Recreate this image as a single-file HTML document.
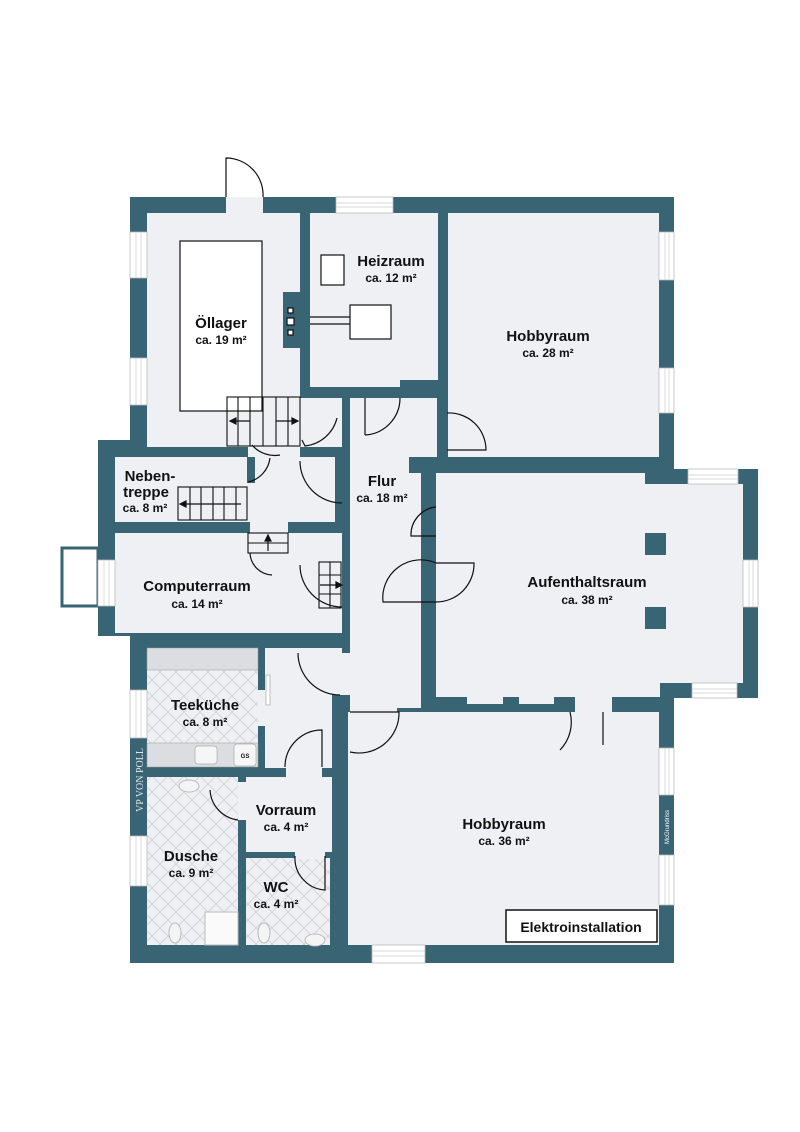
<!DOCTYPE html>
<html><head><meta charset="utf-8"><style>
html,body{margin:0;padding:0;background:#fff}
svg{display:block}
text{font-family:"Liberation Sans",sans-serif;font-weight:bold;fill:#111;text-anchor:middle}
</style></head><body>
<svg width="800" height="1132" viewBox="0 0 800 1132" xmlns="http://www.w3.org/2000/svg">
<defs>
<pattern id="tile" width="16" height="16" patternUnits="userSpaceOnUse">
<rect width="16" height="16" fill="#eef0f4"/>
<path d="M0 0L16 16M16 0L0 16" stroke="#cfd2d8" stroke-width="0.8"/>
</pattern>
</defs>
<g fill="#386474">
<rect x="130" y="197" width="544" height="766"/>
<rect x="98" y="440" width="40" height="196"/>
<rect x="660" y="469" width="98" height="229"/>
</g>
<rect x="62" y="548" width="36" height="58" fill="#fff" stroke="#386474" stroke-width="3"/>
<g fill="#eef0f4">
<rect x="147" y="213" width="153" height="234"/>
<rect x="226" y="197" width="37" height="16"/>
<rect x="310" y="213" width="128" height="174"/>
<rect x="448" y="213" width="211" height="244"/>
<rect x="300" y="398" width="42" height="49"/>
<rect x="342" y="398" width="95" height="50"/>
<rect x="350" y="398" width="71" height="310"/>
<rect x="421" y="398" width="16" height="60"/>
<rect x="115" y="457" width="220" height="65"/>
<rect x="248" y="447" width="52" height="12"/>
<rect x="115" y="533" width="227" height="100"/>
<rect x="250" y="521" width="38" height="14"/>
<rect x="436" y="473" width="224" height="224"/>
<rect x="660" y="484" width="83" height="199"/>
<rect x="265" y="648" width="85" height="47"/>
<rect x="265" y="648" width="67" height="120"/>
<rect x="246" y="777" width="86" height="75"/>
<rect x="286" y="765" width="36" height="14"/>
<rect x="348" y="712" width="311" height="233"/>
<rect x="350" y="698" width="47" height="16"/>
</g>
<rect x="147" y="648" width="111" height="119" fill="url(#tile)"/>
<rect x="147" y="777" width="91" height="168" fill="url(#tile)"/>
<rect x="246" y="858" width="84" height="87" fill="url(#tile)"/>
<rect x="238" y="782" width="8" height="38" fill="#eef0f4"/>
<rect x="295" y="851" width="30" height="8" fill="#eef0f4"/>
<rect x="258" y="690" width="7" height="36" fill="#eef0f4"/>
<g fill="#386474">
<rect x="283" y="292" width="26" height="56"/>
<rect x="400" y="380" width="38" height="8"/>
<rect x="247" y="457" width="8" height="26"/>
<rect x="342" y="398" width="8" height="67"/>
<rect x="335" y="447" width="15" height="18"/>
<rect x="342" y="503" width="8" height="60"/>
<rect x="342" y="605" width="8" height="48"/>
<rect x="421" y="458" width="15" height="49"/>
<rect x="421" y="537" width="15" height="26"/>
<rect x="421" y="602" width="15" height="100"/>
<rect x="409" y="457" width="30" height="16"/>
<rect x="436" y="697" width="224" height="12"/>
<rect x="660" y="683" width="35" height="15"/>
<rect x="645" y="469" width="15" height="15"/>
<rect x="645" y="533" width="21" height="22"/>
<rect x="645" y="607" width="21" height="22"/>
<rect x="332" y="700" width="16" height="245"/>
</g>
<g fill="#eef0f4">
<rect x="467" y="697" width="36" height="7"/><rect x="519" y="697" width="35" height="7"/>
<rect x="575" y="697" width="37" height="15"/>
</g>
<rect x="147" y="648" width="111" height="22" fill="#dcdde0" stroke="#999" stroke-width="0.5"/>
<rect x="147" y="743" width="111" height="24" fill="#dcdde0" stroke="#999" stroke-width="0.5"/>
<rect x="195" y="746" width="22" height="18" rx="3" fill="#f6f6f6" stroke="#aaa" stroke-width="0.7"/>
<rect x="234" y="744" width="22" height="22" rx="3" fill="#f6f6f6" stroke="#aaa" stroke-width="0.7"/>
<text x="245" y="758" style="font-size:6px">GS</text>
<rect x="266" y="675" width="4" height="30" fill="#fff" stroke="#999" stroke-width="0.6"/>
<ellipse cx="189" cy="786" rx="10" ry="6" fill="#f4f4f4" stroke="#bbb"/>
<rect x="205" y="912" width="33" height="33" fill="#fafafa" stroke="#bbb"/>
<ellipse cx="175" cy="933" rx="6" ry="10" fill="#f4f4f4" stroke="#bbb"/>
<ellipse cx="264" cy="933" rx="6" ry="10" fill="#f4f4f4" stroke="#bbb"/>
<ellipse cx="315" cy="940" rx="10" ry="6" fill="#f4f4f4" stroke="#bbb"/>
<g fill="#fff" stroke="#bbb" stroke-width="0.8">
<rect x="336" y="197" width="57" height="16"/>
<rect x="130" y="232" width="17" height="46"/>
<rect x="130" y="358" width="17" height="47"/>
<rect x="659" y="232" width="15" height="48"/>
<rect x="659" y="368" width="15" height="45"/>
<rect x="688" y="469" width="50" height="15"/>
<rect x="743" y="560" width="15" height="47"/>
<rect x="692" y="683" width="45" height="15"/>
<rect x="98" y="560" width="17" height="46"/>
<rect x="130" y="690" width="17" height="48"/>
<rect x="130" y="836" width="17" height="50"/>
<rect x="659" y="748" width="15" height="47"/>
<rect x="659" y="855" width="15" height="50"/>
<rect x="372" y="945" width="53" height="18"/>
</g>
<g stroke="#ccc" stroke-width="0.7">
<path d="M336 203H393M336 207H393M136 232V278M141 232V278M136 358V405M141 358V405M665 232V280M669 232V280M665 368V413M669 368V413M688 475H738M688 479H738M749 560V607M753 560V607M692 689H737M692 693H737M104 560V606M109 560V606M136 690V738M141 690V738M136 836V886M141 836V886M665 748V795M669 748V795M665 855V905M669 855V905M372 951H425M372 956H425"/>
</g>
<g fill="#fff" stroke="#111" stroke-width="1.2">
<rect x="180" y="241" width="82" height="170"/>
<rect x="321" y="255" width="23" height="30"/>
<rect x="350" y="305" width="41" height="34"/>
<rect x="288" y="308" width="5" height="5"/><rect x="287" y="318" width="7" height="7"/><rect x="288" y="330" width="5" height="5"/>
</g>
<path d="M310 317H350M310 324H350" stroke="#111" stroke-width="1.2"/>
<g fill="none" stroke="#111" stroke-width="1.1">
<rect x="227" y="397" width="73" height="49"/>
<path d="M238 397V446M250 397V446M276 397V446M288 397V446M263 397V446"/>
<rect x="178" y="487" width="69" height="33"/>
<path d="M190 487V520M201 487V520M213 487V520M224 487V520M236 487V520"/>
<rect x="248" y="533" width="40" height="20"/><path d="M248 543H288"/>
<rect x="319" y="562" width="22" height="46"/><path d="M330 562V608M319 575H341M319 594H341"/>
</g>
<g stroke="#111" stroke-width="1.2" fill="#111">
<path d="M230 421H250"/><path d="M230 421l6-3v6z"/>
<path d="M276 421H296"/><path d="M298 421l-6-3v6z"/>
<path d="M182 504H241"/><path d="M180 504l6-3v6z"/>
<path d="M268 551V537"/><path d="M268 535l-3 6h6z"/>
<path d="M320 585H340"/><path d="M342 585l-6-3v6z"/>
</g>
<g fill="none" stroke="#111" stroke-width="1.2">
<path d="M226 197V158A37 37 0 0 1 263 197"/>
<path d="M365 435L365 398M365 435A37 37 0 0 0 400 398"/>
<path d="M447 413A37 37 0 0 1 486 450H447"/>
<path d="M337 418A37 37 0 0 1 305 446L302 440"/>
<path d="M252 445A30 30 0 0 0 280 455"/>
<path d="M270 458A28 28 0 0 1 248 482"/>
<path d="M300 461A42 42 0 0 0 342 503"/>
<path d="M436 507A28 28 0 0 0 411 536H436"/>
<path d="M436 563H474A38 38 0 0 1 436 602H383A38 38 0 0 1 436 563"/>
<path d="M300 565A42 42 0 0 0 342 607"/>
<path d="M250 553A23 23 0 0 0 272 575"/>
<path d="M298 653A42 42 0 0 0 340 695"/>
<path d="M350 752A40 40 0 0 0 399 712H350"/>
<path d="M603 712V745M570 712A40 40 0 0 1 560 750"/>
<path d="M285 767A37 37 0 0 1 322 730V767"/>
<path d="M210 790A32 32 0 0 0 238 820"/>
<path d="M295 856A32 32 0 0 0 325 890V856"/>
</g>
<text x="221" y="328" style="font-size:15px">Öllager</text>
<text x="221" y="344" style="font-size:12px">ca. 19 m²</text>
<text x="391" y="266" style="font-size:15px">Heizraum</text>
<text x="391" y="282" style="font-size:12px">ca. 12 m²</text>
<text x="548" y="341" style="font-size:15px">Hobbyraum</text>
<text x="548" y="357" style="font-size:12px">ca. 28 m²</text>
<text x="150" y="481" style="font-size:15px">Neben-</text>
<text x="146" y="497" style="font-size:15px">treppe</text>
<text x="145" y="512" style="font-size:12px">ca. 8 m²</text>
<text x="382" y="486" style="font-size:15px">Flur</text>
<text x="382" y="502" style="font-size:12px">ca. 18 m²</text>
<text x="197" y="591" style="font-size:15px">Computerraum</text>
<text x="197" y="608" style="font-size:12px">ca. 14 m²</text>
<text x="587" y="587" style="font-size:15px">Aufenthaltsraum</text>
<text x="587" y="604" style="font-size:12px">ca. 38 m²</text>
<text x="205" y="710" style="font-size:15px">Teeküche</text>
<text x="205" y="726" style="font-size:12px">ca. 8 m²</text>
<text x="286" y="815" style="font-size:15px">Vorraum</text>
<text x="286" y="831" style="font-size:12px">ca. 4 m²</text>
<text x="191" y="861" style="font-size:15px">Dusche</text>
<text x="191" y="877" style="font-size:12px">ca. 9 m²</text>
<text x="276" y="892" style="font-size:15px">WC</text>
<text x="276" y="908" style="font-size:12px">ca. 4 m²</text>
<text x="504" y="829" style="font-size:15px">Hobbyraum</text>
<text x="504" y="845" style="font-size:12px">ca. 36 m²</text>
<rect x="506" y="910" width="151" height="32" fill="#fff" stroke="#111" stroke-width="1.5"/>
<text x="581" y="932" style="font-size:14px">Elektroinstallation</text>
<text transform="translate(143,780) rotate(-90)" style="font-size:10px;fill:#dfe6ea;font-family:'Liberation Serif',serif;font-weight:normal">VP VON POLL</text>
<text transform="translate(669,827) rotate(-90)" style="font-size:6px;fill:#fff;font-weight:normal">McGrundriss</text>
</svg>
</body></html>
